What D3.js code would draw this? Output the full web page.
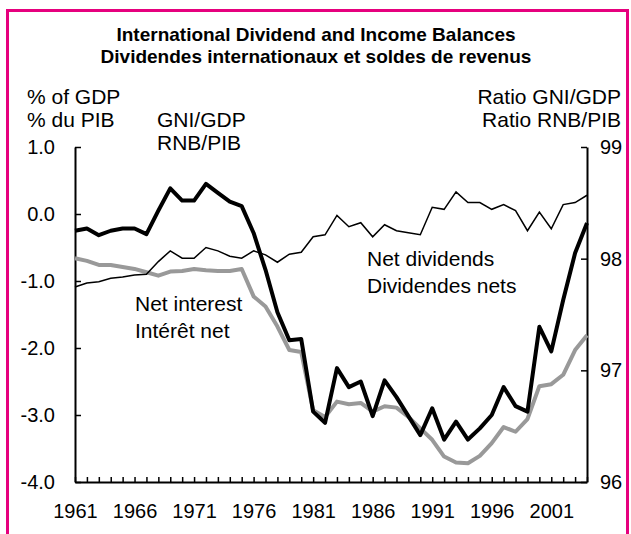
<!DOCTYPE html>
<html>
<head>
<meta charset="utf-8">
<script src="https://cdn.jsdelivr.net/npm/d3@7"></script>
<style>
  body { margin: 0; background: #fff; }
  svg text { font-family: "Liberation Sans", Arial, sans-serif; fill: #000; }
</style>
</head>
<body>
<script>
// years 1961..2004
var years = d3.range(1961, 2005);

// GNI/GDP ratio (right axis)
var gniGdp = [98.25, 98.27, 98.21, 98.25, 98.27, 98.27, 98.22, 98.43, 98.63, 98.52,
              98.52, 98.67, 98.59, 98.51, 98.47, 98.23, 97.90, 97.52, 97.27, 97.28,
              96.63, 96.53, 97.02, 96.85, 96.90, 96.59, 96.91, 96.76, 96.59, 96.42,
              96.66, 96.38, 96.54, 96.38, 96.48, 96.60, 96.85, 96.68, 96.63, 97.39,
              97.17, 97.63, 98.05, 98.32];

// net dividends, % of GDP (left axis)
var netDividends = [-1.09, -1.03, -1.01, -0.96, -0.94, -0.91, -0.90, -0.71, -0.55, -0.66,
                    -0.66, -0.50, -0.55, -0.63, -0.66, -0.55, -0.61, -0.72, -0.60, -0.57,
                    -0.34, -0.31, -0.02, -0.19, -0.13, -0.34, -0.16, -0.25, -0.28, -0.31,
                    0.10, 0.07, 0.33, 0.17, 0.17, 0.07, 0.14, 0.05, -0.25, 0.03,
                    -0.22, 0.14, 0.17, 0.28];

// net interest, % of GDP (left axis)
var netInterest = [-0.66, -0.70, -0.76, -0.76, -0.79, -0.82, -0.87, -0.92, -0.86, -0.85,
                   -0.82, -0.84, -0.85, -0.85, -0.82, -1.23, -1.38, -1.68, -2.03, -2.06,
                   -2.93, -3.03, -2.80, -2.84, -2.82, -2.95, -2.87, -2.89, -3.03, -3.20,
                   -3.37, -3.62, -3.71, -3.72, -3.61, -3.42, -3.18, -3.25, -3.06, -2.57,
                   -2.54, -2.40, -2.03, -1.81];

var leftTicks = [-4, -3, -2, -1, 0, 1];
var rightTicks = [96, 97, 98, 99];
var yearLabels = [1961, 1966, 1971, 1976, 1981, 1986, 1991, 1996, 2001];

var W = 631, H = 534;
var svg = d3.select("body").append("svg")
  .attr("width", W)
  .attr("height", H);

// pink frame
svg.append("rect")
  .attr("x", 7.5).attr("y", 10.5)
  .attr("width", 620).attr("height", 540)
  .attr("fill", "none")
  .attr("stroke", "#e6007e")
  .attr("stroke-width", 3);

var x = d3.scaleLinear().domain([1961, 2004]).range([75, 587]);
var yL = d3.scaleLinear().domain([-4, 1]).range([482, 147]);
var yR = d3.scaleLinear().domain([96, 99]).range([482, 147]);

// axes
var gx = svg.append("g")
  .attr("transform", "translate(0,482)")
  .call(d3.axisBottom(x).tickValues(years).tickSizeInner(-5).tickSizeOuter(0)
        .tickFormat(function(d) { return yearLabels.indexOf(d) >= 0 ? d : ""; })
        .tickPadding(22));

var gl = svg.append("g")
  .attr("transform", "translate(75,0)")
  .call(d3.axisLeft(yL).tickValues(leftTicks).tickSizeInner(-6).tickSizeOuter(0)
        .tickFormat(function(d) { return d.toFixed(1); })
        .tickPadding(20));

var gr = svg.append("g")
  .attr("transform", "translate(587,0)")
  .call(d3.axisRight(yR).tickValues(rightTicks).tickSizeInner(-6).tickSizeOuter(0)
        .tickFormat(d3.format("d"))
        .tickPadding(13));

svg.selectAll(".domain").attr("stroke", "#000").attr("stroke-width", 2);
svg.selectAll(".tick line").attr("stroke", "#000").attr("stroke-width", 1.5);
svg.selectAll(".tick text").attr("font-size", 20).attr("font-family", "Liberation Sans, Arial, sans-serif").attr("fill", "#000");

// lines
var lineL = function(vals) {
  return d3.line().x(function(d, i) { return x(years[i]); }).y(function(d) { return yL(d); })(vals);
};
var lineR = d3.line().x(function(d, i) { return x(years[i]); }).y(function(d) { return yR(d); });

svg.append("path").attr("d", lineL(netInterest))
  .attr("fill", "none").attr("stroke", "#999999").attr("stroke-width", 4)
  .attr("stroke-linejoin", "round");

svg.append("path").attr("d", lineL(netDividends))
  .attr("fill", "none").attr("stroke", "#000").attr("stroke-width", 1.5);

svg.append("path").attr("d", lineR(gniGdp))
  .attr("fill", "none").attr("stroke", "#000").attr("stroke-width", 4)
  .attr("stroke-linejoin", "round");

// texts
function txt(s, tx, ty, anchor, size, weight) {
  svg.append("text").attr("x", tx).attr("y", ty)
    .attr("text-anchor", anchor || "start")
    .attr("font-size", size || 21)
    .attr("font-weight", weight || "normal")
    .text(s);
}

txt("International Dividend and Income Balances", 316, 41, "middle", 19, "bold");
txt("Dividendes internationaux et soldes de revenus", 316, 63, "middle", 19, "bold");

txt("% of GDP", 27, 104);
txt("% du PIB", 27, 127);
txt("GNI/GDP", 157, 127);
txt("RNB/PIB", 157, 150);
txt("Ratio GNI/GDP", 621, 104, "end");
txt("Ratio RNB/PIB", 621, 127, "end");

txt("Net interest", 135, 311);
txt("Intérêt net", 135, 338);
txt("Net dividends", 367, 266);
txt("Dividendes nets", 367, 293);
</script>
</body>
</html>
